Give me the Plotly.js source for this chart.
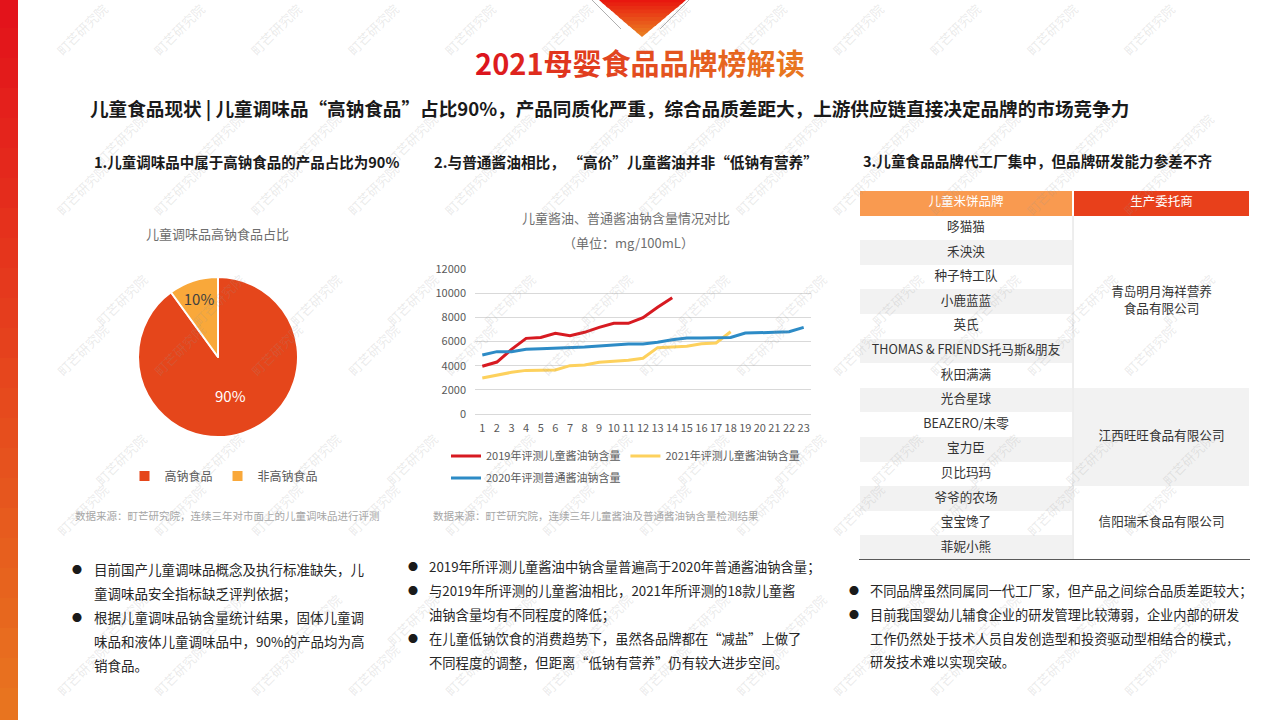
<!DOCTYPE html>
<html><head><meta charset="utf-8">
<script src="https://cdn.plot.ly/plotly-3.0.1.min.js"></script>
<style>html,body{margin:0;padding:0;background:#fff;}#chart{width:1280px;height:720px;}</style>
</head><body><div id="chart"></div>
<script>
// ---------------- data ----------------
const pieLabels = ['高钠食品', '非高钠食品'];
const pieValues = [90, 10];

const sampleIds = ['1','2','3','4','5','6','7','8','9','10','11','12','13','14','15','16','17','18','19','20','21','22','23'];
const seriesNames = ['2019年评测儿童酱油钠含量', '2021年评测儿童酱油钠含量', '2020年评测普通酱油钠含量'];
const sodium2019 = [3950, 4300, 5350, 6260, 6340, 6680, 6480, 6760, 7170, 7500, 7500, 7970, 8830, 9630];
const sodium2021 = [2980, 3230, 3450, 3610, 3640, 3640, 4000, 4050, 4280, 4360, 4440, 4610, 5490, 5540, 5600, 5820, 5880, 6810];
const sodium2020 = [4880, 5160, 5160, 5350, 5400, 5430, 5460, 5540, 5630, 5710, 5790, 5790, 5930, 6150, 6290, 6290, 6320, 6340, 6700, 6760, 6760, 6810, 7170];

const tableHeader = ['儿童米饼品牌', '生产委托商'];
const brands = ['哆猫猫', '禾泱泱', '种子特工队', '小鹿蓝蓝', '英氏', 'THOMAS & FRIENDS托马斯&朋友', '秋田满满',
                '光合星球', 'BEAZERO/未零', '宝力臣', '贝比玛玛',
                '爷爷的农场', '宝宝馋了', '菲妮小熊'];
const manufacturers = [['青岛明月海祥营养', '食品有限公司'], ['江西旺旺食品有限公司'], ['信阳瑞禾食品有限公司']];
const brandsPerManufacturer = [7, 4, 3];

// ---------------- style ----------------
const W = 1280, H = 720;
const F = '"Noto Sans CJK SC", "Noto Sans", sans-serif';
const px = x => x / W, py = y => 1 - y / H;
const colWidths = [214, 177];
const lineStep = 0.7; // line spacing inside a merged cell, in rows

function hex2rgb(h){return [1,3,5].map(i=>parseInt(h.substr(i,2),16));}
function mix(a,b,t){const A=hex2rgb(a),B=hex2rgb(b);return 'rgb('+A.map((v,i)=>Math.round(v+(B[i]-v)*t)).join(',')+')';}

const annotations = [];
const shapes = [];
function ann(text, x, y, o){
  o = o || {};
  annotations.push(Object.assign({xref:'paper', yref:'paper', x:px(x), y:py(y), text:text, showarrow:false,
    xanchor:'left', yanchor:'middle', font:{family:F, size:13, color:'#262626'}}, o));
}

// watermarks (only those fully inside the page)
const wmColor = 'rgba(150,150,150,0.20)';
function wm(x, y){
  if (x < 40 || x > 1240 || y < 28 || y > 690) return;
  ann('町芒研究院', x, y, {xanchor:'center', textangle:-45, font:{family:F, size:13, color:wmColor}});
}
for (let j = -1; j < 5; j++) {
  for (let k = 0; k < 14; k++) {
    wm(24 + 97*k, 140 + 160*j);
    wm(82 + 97*k, 30 + 160*(j+1));
  }
}

// left bar gradient
const NB = 24;
for (let i = 0; i < NB; i++) {
  shapes.push({type:'rect', xref:'paper', yref:'paper', x0:0, x1:px(18), y0:py(H*i/NB - (i ? 2 : 0)), y1:py(H*(i+1)/NB + 2),
    fillcolor:mix('#e3131b','#e8741f',i/(NB-1)), line:{width:0}, layer:'below'});
}
// top triangle gradient
const TL = 599, TR = 686, AX = 642, AY = 37, NT = 10;
for (let i = 0; i < NT; i++) {
  const a = Math.max(0, AY*i/NT - 1.5), b = AY*(i+1)/NT;
  const la = TL + (AX-TL)*a/AY, ra = TR - (TR-AX)*a/AY, lb = TL + (AX-TL)*b/AY, rb = TR - (TR-AX)*b/AY;
  shapes.push({type:'path', xref:'paper', yref:'paper',
    path:`M ${px(la)} ${py(a)} L ${px(ra)} ${py(a)} L ${px(rb)} ${py(b)} L ${px(lb)} ${py(b)} Z`,
    fillcolor:mix('#e8170f','#ea7a21',i/(NT-1)), line:{width:0}, layer:'below'});
}
shapes.push({type:'line', xref:'paper', yref:'paper', x0:px(592), y0:py(0), x1:px(621), y1:py(29), line:{color:'#b0b0b0', width:1}});
shapes.push({type:'line', xref:'paper', yref:'paper', x0:px(689), y0:py(0), x1:px(660), y1:py(29), line:{color:'#b0b0b0', width:1}});

// title with gradient characters
const titleText = '2021母婴食品品牌榜解读';
const tchars = Array.from(titleText);
const titleHtml = tchars.map((c,i)=>`<span style="color:${mix('#dc141e','#e8761f',i/(tchars.length-1))}">${c}</span>`).join('');
ann('<b>'+titleHtml+'</b>', 640, 62, {xanchor:'center', font:{family:F, size:29, color:'#e0301c'}});

ann('<b>儿童食品现状 | 儿童调味品“高钠食品”占比90%，产品同质化严重，综合品质差距大，上游供应链直接决定品牌的市场竞争力</b>', 88, 108,
  {font:{family:F, size:18.6, color:'#1a1a1a'}});

ann('<b>1.儿童调味品中属于高钠食品的产品占比为90%</b>', 92, 162, {font:{family:F, size:14.5, color:'#1a1a1a'}});
ann('<b>2.与普通酱油相比， “高价”儿童酱油并非“低钠有营养”</b>', 432, 162, {font:{family:F, size:14.7, color:'#1a1a1a'}});
ann('<b>3.儿童食品品牌代工厂集中，但品牌研发能力参差不齐</b>', 861, 160, {font:{family:F, size:14.6, color:'#1a1a1a'}});

ann('儿童调味品高钠食品占比', 217, 234, {xanchor:'center', font:{family:F, size:13, color:'#6e6e6e'}});
ann('儿童酱油、普通酱油钠含量情况对比', 626, 217, {xanchor:'center', font:{family:F, size:13, color:'#6e6e6e'}});
ann('（单位：mg/100mL）', 628, 242, {xanchor:'center', font:{family:F, size:13, color:'#6e6e6e'}});

ann('数据来源：町芒研究院，连续三年对市面上的儿童调味品进行评测', 73, 515, {font:{family:F, size:10.5, color:'#a6a6a6'}});
ann('数据来源：町芒研究院，连续三年儿童酱油及普通酱油钠含量检测结果', 431, 515, {font:{family:F, size:10.5, color:'#a6a6a6'}});

// bullets
const bulletLeft = [
  ['● ', '目前国产儿童调味品概念及执行标准缺失，儿', 569],
  ['', '童调味品安全指标缺乏评判依据；', 593],
  ['● ', '根据儿童调味品钠含量统计结果，固体儿童调', 617],
  ['', '味品和液体儿童调味品中，90%的产品均为高', 641],
  ['', '销食品。', 665]];
const bulletMid = [
  ['● ', '2019年所评测儿童酱油中钠含量普遍高于2020年普通酱油钠含量；', 566],
  ['● ', '与2019年所评测的儿童酱油相比，2021年所评测的18款儿童酱', 590],
  ['', '油钠含量均有不同程度的降低；', 614],
  ['● ', '在儿童低钠饮食的消费趋势下，虽然各品牌都在“减盐”上做了', 638],
  ['', '不同程度的调整，但距离“低钠有营养”仍有较大进步空间。', 662]];
const bulletRight = [
  ['● ', '不同品牌虽然同属同一代工厂家，但产品之间综合品质差距较大；', 590],
  ['● ', '目前我国婴幼儿辅食企业的研发管理比较薄弱，企业内部的研发', 614],
  ['', '工作仍然处于技术人员自发创造型和投资驱动型相结合的模式，', 638],
  ['', '研发技术难以实现突破。', 661]];
function bullets(list, bx, tx, size){
  list.forEach(([b, t, y]) => {
    if (b) ann('●', bx, y, {xanchor:'center', font:{family:F, size:10, color:'#1a1a1a'}});
    ann(t, tx, y, {font:{family:F, size:size, color:'#262626'}});
  });
}
bullets(bulletLeft, 77, 92, 13.5);
bullets(bulletMid, 413, 427, 13.3);
bullets(bulletRight, 854, 868, 13.2);

// ---------------- traces ----------------
const traces = [];
traces.push({type:'pie', labels:pieLabels, values:pieValues, sort:false, direction:'clockwise', rotation:0,
  domain:{x:[px(138), px(298)], y:[py(437), py(277)]},
  marker:{colors:['#e5461b', '#f9a83a'], line:{color:'#ffffff', width:2}},
  textinfo:'percent', textposition:'inside', insidetextorientation:'horizontal',
  textfont:{family:F, size:15, color:['#ffffff', '#404040']},
  hoverinfo:'skip', legend:'legend3', showlegend:true});

const lineColors = ['#d71a21', '#fdd15d', '#2d8bc6'];
[[sodium2019, 0, 'legend'], [sodium2021, 1, 'legend'], [sodium2020, 2, 'legend2']].forEach(([vals, i, lg]) => {
  traces.push({type:'scatter', mode:'lines', x:sampleIds.slice(0, vals.length), y:vals, name:seriesNames[i],
    line:{color:lineColors[i], width:3}, xaxis:'x', yaxis:'y', legend:lg, hoverinfo:'skip'});
});

// table as heatmap
const xEdges = [0]; colWidths.forEach(w => xEdges.push(xEdges[xEdges.length-1] + w));
const blockOf = []; brandsPerManufacturer.forEach((n, b) => { for (let k = 0; k < n; k++) blockOf.push(b); });
const z = [[2, 3]];
brands.forEach((_, i) => z.push([i % 2, blockOf[i] % 2]));
const rowIdx = z.map((_, r) => r);
traces.push({type:'heatmap', x:xEdges, y:rowIdx, z:z, zmin:0, zmax:3, showscale:false, xgap:2, ygap:0,
  colorscale:[[0,'#ffffff'],[0.166,'#ffffff'],[0.166,'#f2f2f2'],[0.5,'#f2f2f2'],[0.5,'#f99a50'],[0.833,'#f99a50'],[0.833,'#e8401b'],[1,'#e8401b']],
  xaxis:'x2', yaxis:'y2', hoverinfo:'skip'});
const cLeft = colWidths[0] / 2, cRight = colWidths[0] + colWidths[1] / 2;
traces.push({type:'scatter', mode:'text', x:[cLeft, cRight], y:[0, 0], text:tableHeader,
  textfont:{family:F, size:12.5, color:'#ffffff'}, xaxis:'x2', yaxis:'y2', showlegend:false, hoverinfo:'skip', cliponaxis:false});
traces.push({type:'scatter', mode:'text', x:brands.map(() => cLeft), y:brands.map((_, i) => i + 1), text:brands,
  textfont:{family:F, size:12.6, color:'#333333'}, xaxis:'x2', yaxis:'y2', showlegend:false, hoverinfo:'skip', cliponaxis:false});
let start = 1; const manX = [], manY = [], manT = [];
brandsPerManufacturer.forEach((n, b) => {
  const mid = start + (n - 1) / 2, lines = manufacturers[b];
  lines.forEach((t, li) => { manX.push(cRight); manY.push(mid + (li - (lines.length - 1) / 2) * lineStep); manT.push(t); });
  start += n;
});
traces.push({type:'scatter', mode:'text', x:manX, y:manY, text:manT,
  textfont:{family:F, size:12.6, color:'#333333'}, xaxis:'x2', yaxis:'y2', showlegend:false, hoverinfo:'skip', cliponaxis:false});

shapes.push({type:'line', xref:'x2', yref:'y2', x0:colWidths[0], x1:colWidths[0], y0:0.5, y1:brands.length + 0.5,
  line:{color:'#dcdcdc', width:1}});
shapes.push({type:'line', xref:'x2', yref:'y2', x0:0, x1:xEdges[2], y0:brands.length + 0.5, y1:brands.length + 0.5,
  line:{color:'#595959', width:2}});

const legendBase = {orientation:'h', bgcolor:'rgba(0,0,0,0)', font:{family:F, size:11, color:'#595959'},
  itemclick:false, itemdoubleclick:false, xanchor:'left', yanchor:'middle'};

const layout = {
  width:W, height:H, margin:{l:0, r:0, t:0, b:0}, paper_bgcolor:'#ffffff', plot_bgcolor:'rgba(0,0,0,0)',
  font:{family:F},
  xaxis:{domain:[px(475), px(811)], anchor:'y', type:'category', range:[-0.5, 22.5], showgrid:false, zeroline:false,
    showline:false, ticks:'', tickfont:{family:F, size:11, color:'#595959'}, ticklabelstandoff:6, fixedrange:true},
  yaxis:{domain:[py(414), py(269)], anchor:'x', range:[0, 12000], dtick:2000, tickformat:'d', gridcolor:'#d9d9d9', gridwidth:1,
    zeroline:true, zerolinecolor:'#d9d9d9', zerolinewidth:1, showline:false, ticks:'',
    tickfont:{family:F, size:11, color:'#595959'}, ticklabelstandoff:8, fixedrange:true},
  xaxis2:{domain:[px(859), px(1250)], anchor:'y2', range:[0, xEdges[2]], visible:false, fixedrange:true},
  yaxis2:{domain:[py(560), py(191)], anchor:'x2', range:[brands.length + 0.5, -0.5], visible:false, fixedrange:true},
  legend:Object.assign({}, legendBase, {x:px(446), y:py(456)}),
  legend2:Object.assign({}, legendBase, {x:px(446), y:py(478)}),
  legend3:Object.assign({}, legendBase, {x:px(224), xanchor:'center', y:py(476), font:{family:F, size:12, color:'#595959'}}),
  shapes:shapes, annotations:annotations
};

Plotly.newPlot('chart', traces, layout, {staticPlot:true, displayModeBar:false});
</script></body></html>
